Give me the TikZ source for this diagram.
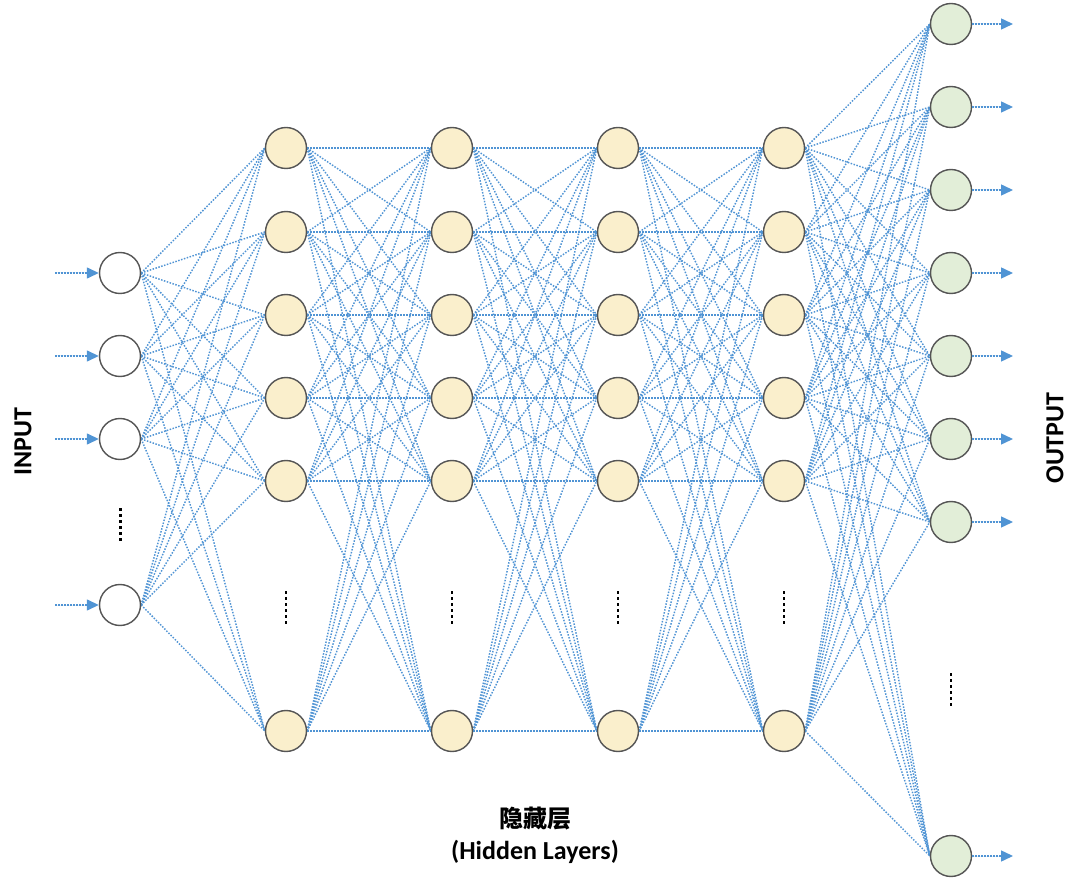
\documentclass[tikz,border=0pt]{standalone}
\usepackage{fontspec}
\setmainfont{Carlito}
\newfontfamily\cjk{Noto Sans CJK SC}
\usetikzlibrary{arrows.meta}
\pgfdeclarelayer{bg}
\pgfsetlayers{bg,main}
\definecolor{edgeblue}{RGB}{80,148,212}
\definecolor{ringgray}{RGB}{85,85,85}
\definecolor{hidfill}{RGB}{250,239,204}
\definecolor{outfill}{RGB}{226,238,216}
\begin{document}
\begin{tikzpicture}[x=1pt,y=-1pt,
  neuron/.style={circle, draw=ringgray, line width=1.4pt, minimum size=41pt, inner sep=0pt},
  inp/.style={neuron, fill=white},
  hid/.style={neuron, fill=hidfill},
  outn/.style={neuron, fill=outfill},
  conn/.style={draw=edgeblue, line width=1.45pt, dash pattern=on 1.5pt off 1.5pt},
  arr/.style={conn, -{Triangle[length=12pt,width=11pt]}, fill=edgeblue},
  lbl/.style={font=\bfseries\fontsize{26}{30}\selectfont, inner sep=0pt},
  dotmark/.style={fill=black}
]
\useasboundingbox (0,0) rectangle (1080,882);
% nodes
\foreach \i/\y in {1/273,2/356,3/439,4/605}
  \node[inp] (I\i) at (120,\y) {};
\foreach \l/\x in {1/286,2/452,3/618,4/784}
  \foreach \i/\y in {1/148,2/232,3/315,4/398,5/481,6/731}
    \node[hid] (H\l-\i) at (\x,\y) {};
\foreach \i/\y in {1/24,2/107,3/190,4/273,5/356,6/439,7/522,8/856}
  \node[outn] (O\i) at (951,\y) {};
% connections
\begin{pgfonlayer}{bg}
\foreach \a in {1,...,4}
  \foreach \b in {1,...,6}
    \draw[conn] (I\a.east) -- (H1-\b.west);
\foreach \l/\m in {1/2,2/3,3/4}
  \foreach \a in {1,...,6}
    \foreach \b in {1,...,6}
      \draw[conn] (H\l-\a.east) -- (H\m-\b.west);
\foreach \a in {1,...,6}
  \foreach \b in {1,...,8}
    \draw[conn] (H4-\a.east) -- (O\b.west);
\end{pgfonlayer}
% input / output arrows
\foreach \i/\y in {1/273,2/356,3/439,4/605} {
  \coordinate (ia\i) at (55,\y);
  \draw[arr] (ia\i) -- (I\i.west);
}
\foreach \i/\y in {1/24,2/107,3/190,4/273,5/356,6/439,7/522,8/856} {
  \coordinate (oa\i) at (1013,\y);
  \draw[arr] (O\i.east) -- (oa\i);
}
% ellipsis dots
\foreach \k in {0,...,5} {
  \fill[dotmark] (118.7,{508+6*\k}) rectangle ++(2.8,2.8);
  \foreach \x in {286,452,618,784}
    \fill[dotmark] ({\x-1.4},{591+6*\k}) rectangle ++(2.8,2.8);
  \fill[dotmark] (949.6,{673+6*\k}) rectangle ++(2.8,2.8);
}
% labels
\node[lbl, rotate=90] (inlbl) at (23,442) {INPUT};
\node[lbl, rotate=90] (outlbl) at (1055,438) {OUTPUT};
\node[lbl, font=\cjk\bfseries\fontsize{24}{28}\selectfont] (hcn) at (535,819) {隐藏层};
\node[lbl] (hen) at (535,852) {(Hidden Layers)};
\end{tikzpicture}
\end{document}
